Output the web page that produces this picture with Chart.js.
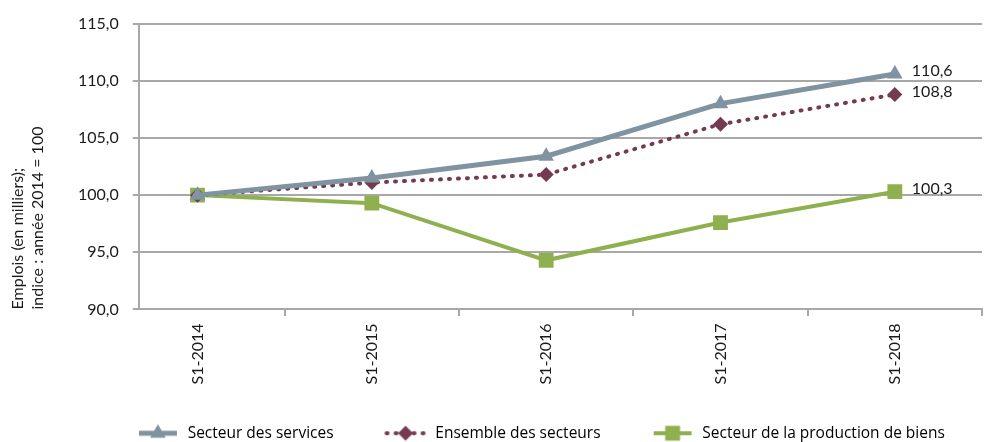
<!DOCTYPE html>
<html>
<head>
<meta charset="utf-8">
<script src="https://cdn.jsdelivr.net/npm/chart.js@4"></script>
<style>
  html, body { margin: 0; padding: 0; background: #fff; }
  #wrap { width: 985px; height: 442px; position: relative; }
</style>
</head>
<body>
<div id="wrap"><canvas id="emploisChart"></canvas></div>
<script>
const categories = ['S1-2014', 'S1-2015', 'S1-2016', 'S1-2017', 'S1-2018'];
const services = [100.0, 101.5, 103.4, 108.0, 110.6];
const ensemble = [100.0, 101.1, 101.8, 106.2, 108.8];
const biens = [100.0, 99.3, 94.3, 97.6, 100.3];
const yTicks = [90, 95, 100, 105, 110, 115];
const seriesNames = ['Secteur des services', 'Ensemble des secteurs', 'Secteur de la production de biens'];

const FONT = "Lato, 'Open Sans', sans-serif";
const LEGEND_FONT = "'Open Sans', Lato, sans-serif";
const gridColor = '#a8a8a8';
const colServices = '#7f93a1';
const colEnsemble = '#743a52';
const colBiens = '#8fb04f';

const ICON_LEAD = 46;   // empty room left of each legend icon = gap between items
const ICON_W = 44;

const fmt = v => v.toFixed(1).replace('.', ',');
const toPoints = arr => arr.map((v, i) => ({ x: i, y: v }));
const isHalf = ctx => ctx.tick && ctx.tick.value % 1 !== 0;

// line + marker icons for the legend
function legendIcon(color, width, dash, style, radius) {
    const c = document.createElement('canvas');
    c.width = ICON_LEAD + ICON_W; c.height = 20;
    const g = c.getContext('2d');
    g.strokeStyle = color;
    g.fillStyle = color;
    g.lineWidth = width;
    if (dash) { g.setLineDash(dash); g.lineCap = 'round'; }
    g.beginPath(); g.moveTo(ICON_LEAD + 3, 10); g.lineTo(ICON_LEAD + ICON_W - 3, 10); g.stroke();
    g.setLineDash([]);
    Chart.helpers.drawPoint(g, { pointStyle: style, radius: radius, rotation: 0, borderWidth: 0 }, ICON_LEAD + ICON_W / 2, 10);
    return c;
}

const lastLabels = {
    id: 'lastLabels',
    afterDatasetsDraw(chart) {
        const ctx = chart.ctx;
        ctx.save();
        ctx.font = '16px ' + FONT;
        ctx.fillStyle = '#1a1a1a';
        ctx.textBaseline = 'middle';
        chart.data.datasets.forEach((ds, i) => {
            const pts = chart.getDatasetMeta(i).data;
            const el = pts[pts.length - 1];
            ctx.fillText(fmt(ds.data[ds.data.length - 1].y), el.x + 17, el.y - 3);
        });
        ctx.restore();
    }
};

// center the legend row under the plot area, and let it sit in the bottom padding
const legendShift = {
    id: 'legendShift',
    afterLayout(chart) {
        const lg = chart.legend;
        const shift = (chart.chartArea.left + chart.chartArea.right) / 2 - (lg.left + lg.right) / 2 - 20 - ICON_LEAD / 2;
        lg.left += shift;
        lg.right += shift;
        lg.top += 37;
        lg.bottom += 37;
    }
};

const icons = [
    legendIcon(colServices, 5, null, 'triangle', 9),
    legendIcon(colEnsemble, 4, [1, 8], 'rectRot', 7.5),
    legendIcon(colBiens, 4, null, 'rect', 10.5)
];

new Chart(document.getElementById('emploisChart'), {
    type: 'line',
    data: {
        datasets: [
            {
                label: seriesNames[0],
                data: toPoints(services),
                borderColor: colServices,
                backgroundColor: colServices,
                borderWidth: 5,
                pointStyle: 'triangle',
                pointRadius: 9,
                pointBorderWidth: 0
            },
            {
                label: seriesNames[1],
                data: toPoints(ensemble),
                borderColor: colEnsemble,
                backgroundColor: colEnsemble,
                borderWidth: 4,
                borderDash: [1, 8],
                borderCapStyle: 'round',
                pointStyle: 'rectRot',
                pointRadius: 7.5,
                pointBorderWidth: 0
            },
            {
                label: seriesNames[2],
                data: toPoints(biens),
                borderColor: colBiens,
                backgroundColor: colBiens,
                borderWidth: 4,
                pointStyle: 'rect',
                pointRadius: 10.5,
                pointBorderWidth: 0
            }
        ]
    },
    options: {
        responsive: true,
        maintainAspectRatio: false,
        animation: false,
        layout: { autoPadding: false, padding: { top: 12, right: 3, left: 8, bottom: 28 } },
        plugins: {
            tooltip: { enabled: false },
            legend: {
                position: 'bottom',
                labels: {
                    font: { family: LEGEND_FONT, size: 15.5 },
                    color: '#1a1a1a',
                    usePointStyle: true,
                    pointStyleWidth: ICON_LEAD + ICON_W,
                    padding: 4,
                    generateLabels: chart => chart.data.datasets.map((ds, i) => ({
                        text: ds.label,
                        pointStyle: icons[i],
                        fillStyle: ds.borderColor,
                        strokeStyle: ds.borderColor,
                        lineWidth: 0,
                        hidden: false,
                        datasetIndex: i
                    }))
                }
            }
        },
        scales: {
            x: {
                type: 'linear',
                min: -0.337,
                max: categories.length - 0.5,
                afterBuildTicks: scale => {
                    scale.ticks = categories.flatMap((c, i) => [{ value: i }, { value: i + 0.5 }]);
                },
                ticks: {
                    autoSkip: false,
                    minRotation: 90,
                    maxRotation: 90,
                    padding: 0,
                    color: '#1a1a1a',
                    font: ctx => ({ family: FONT, size: isHalf(ctx) ? 1 : 16 }),
                    callback: v => Number.isInteger(v) ? categories[v] : ''
                },
                grid: {
                    drawOnChartArea: false,
                    tickLength: 14,
                    lineWidth: 2,
                    tickBorderDash: [6, 100],
                    color: ctx => isHalf(ctx) ? gridColor : 'rgba(0,0,0,0)'
                },
                border: { color: gridColor, width: 2 }
            },
            y: {
                min: 90,
                max: 115,
                afterBuildTicks: scale => {
                    scale.ticks = yTicks.map(v => ({ value: v }));
                },
                ticks: {
                    padding: 14,
                    color: '#1a1a1a',
                    font: { family: FONT, size: 16 },
                    callback: v => fmt(v)
                },
                grid: { color: gridColor, lineWidth: 2, tickLength: 6 },
                border: { color: gridColor, width: 2 },
                title: {
                    display: true,
                    align: 'start',
                    text: ['Emplois (en milliers);', 'indice : année 2014 = 100'],
                    color: '#1a1a1a',
                    font: { family: FONT, size: 16, lineHeight: 1.25 },
                    padding: { top: 0, bottom: 16 }
                }
            }
        }
    },
    plugins: [lastLabels, legendShift]
});
</script>
</body>
</html>
